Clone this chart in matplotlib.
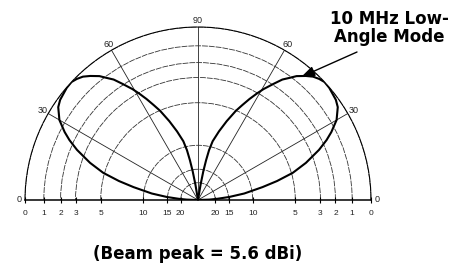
import numpy as np
import matplotlib
matplotlib.use("Agg")
import matplotlib.pyplot as plt

# --- data (elevation angle in degrees, relative field strength) ---
elevation_deg = [0, 2, 3.5, 5.5, 8, 11.3, 13.5, 16, 19, 22.5, 25, 27, 30, 33.6, 36, 38, 40.5,
                 43, 45, 47, 49, 51.5, 53, 55, 57, 59.4, 61, 63, 65, 67, 70, 73, 76, 77.5,
                 78.5, 79.5, 80.5, 81.5]
rel_field = [0, 0.065, 0.11, 0.18, 0.27, 0.38, 0.47, 0.57, 0.66, 0.757, 0.82, 0.865, 0.925,
             0.97, 0.985, 0.99, 0.998, 1.0, 0.99, 0.975, 0.95, 0.915, 0.885, 0.85, 0.80,
             0.745, 0.705, 0.655, 0.605, 0.56, 0.485, 0.415, 0.35, 0.295, 0.235, 0.17,
             0.09, 0]

db_ticks = [0, 1, 2, 3, 5, 10, 15, 20]          # dB-down ring labels
angle_ticks = [0, 30, 60, 90, 120, 150, 180]
angle_labels = ['0', '30', '60', '90', '60', '30', '0']

annot_text = "10 MHz Low-\nAngle Mode"
caption = "(Beam peak = 5.6 dBi)"

W, H = 456, 272
fig = plt.figure(figsize=(W / 100, H / 100), dpi=100)
cx, cy, R = 198, 200, 173
# polar wedge is fitted into a square box; the half-disc occupies its middle half vertically
side = 2 * R
ax = fig.add_axes([(cx - R) / W, ((H - cy) - 0.25 * side) / H, side / W, side / H],
                  projection='polar')
ax.set_thetamin(0)
ax.set_thetamax(180)
ax.set_rlim(0, 1)

ring_r = [10 ** (-d / 20) for d in db_ticks]
ax.set_rticks(ring_r)
ax.set_yticklabels([])
ax.set_thetagrids(angle_ticks, angle_labels, fontsize=6.5, family='Liberation Sans', color='#222')
ax.tick_params(axis='x', pad=-2.5, length=0)
ax.grid(True, color='#222', lw=0.6)
ax.yaxis.grid(True, color='#333', lw=0.6, ls=(0, (7, 1.2)))
ax.spines['polar'].set_linewidth(0.8)
ax.spines['polar'].set_linestyle((0, (7, 1.2)))
ax.spines['start'].set_linewidth(1.1)
ax.spines['end'].set_linewidth(1.1)
ax.spines['inner'].set_visible(False)
ax.patch.set_alpha(0)

# tick marks on the horizon line
ax.plot(np.zeros(len(ring_r)), ring_r, ls='none', marker='|', ms=5, mew=0.8, color='black', clip_on=False)
ax.plot(np.full(len(ring_r), np.pi), ring_r, ls='none', marker='|', ms=5, mew=0.8, color='black', clip_on=False)

# dB labels below the horizon line
for d, r in zip(db_ticks, ring_r):
    for th in (0, np.pi):
        ax.annotate(str(d), xy=(th, r), xytext=(0, -9.5), textcoords='offset points',
                    ha='center', va='center', fontsize=6, family='Liberation Sans',
                    color='#222', annotation_clip=False)

# pattern: right lobe and mirrored left lobe
el = np.radians(elevation_deg)
ax.plot(el, rel_field, color='black', lw=1.5, solid_joinstyle='round')
ax.plot(np.pi - el, rel_field, color='black', lw=1.5, solid_joinstyle='round')

# annotation
fig.text(389 / W, 1 - 28 / H, annot_text, ha='center', va='center', fontsize=12,
         fontweight='bold', family='DejaVu Sans', linespacing=1.0)
ax.annotate('', xy=(np.radians(50), 0.93), xytext=(357, H - 52), textcoords='figure pixels',
            arrowprops=dict(arrowstyle='-|>,head_length=0.8,head_width=0.3', color='black',
                            lw=1.0, shrinkA=0, shrinkB=0), annotation_clip=False)

fig.text(198 / W, 1 - 254 / H, caption, ha='center', va='center', fontsize=12,
         fontweight='bold', family='DejaVu Sans')

fig.savefig('out.png', dpi=100)
